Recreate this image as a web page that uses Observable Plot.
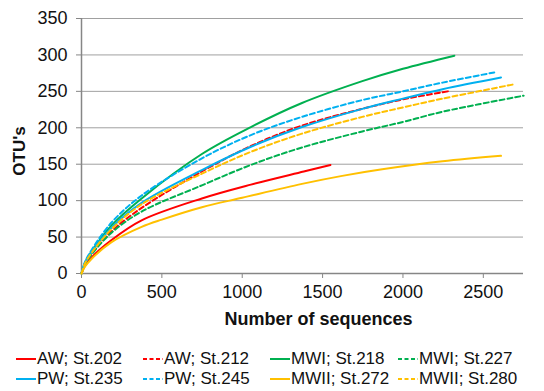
<!DOCTYPE html>
<html>
<head>
<meta charset="utf-8">
<script src="https://cdn.jsdelivr.net/npm/d3@7"></script>
<script src="https://cdn.jsdelivr.net/npm/@observablehq/plot@0.6"></script>
<style>
  body { margin: 0; background: #fff; font-family: "Liberation Sans", Arial, sans-serif; }
  #legend { display: grid; grid-template-columns: 127px 127px 128px 130px; margin-left: 16px; padding-top: 9px; }
  .item { display: flex; align-items: center; height: 20px; font-size: 17px; color: #111; white-space: nowrap; }
  .item svg { margin-right: 1px; }
</style>
</head>
<body>
<div id="chart"></div>
<div id="legend"></div>
<script>
// Series names, colours and dash style
const seriesNames = ["AW; St.202", "AW; St.212", "MWI; St.218", "MWI; St.227", "PW; St.235", "PW; St.245", "MWII; St.272", "MWII; St.280"];
const seriesColors = ["#ff0000", "#ff0000", "#00b050", "#00b050", "#00b0f0", "#00b0f0", "#ffc000", "#ffc000"];
const seriesDashed = [false, true, false, true, false, true, false, true];

// Rarefaction curves: number of sequences (x) and OTU's (y)
const x202 = [0, 20, 62, 187, 374, 749, 1054, 1383, 1549];
const y202 = [0, 10, 22, 46, 73, 103, 122, 140, 149];
const x212 = [0, 20, 62, 187, 374, 749, 1054, 1372, 1747, 2000, 2280];
const y212 = [0, 13, 27, 58, 90, 140, 175, 203, 226, 239, 250];
const x218 = [0, 20, 62, 187, 374, 749, 1054, 1372, 1747, 2000, 2320];
const y218 = [0, 14, 30, 66, 103, 164, 201, 234, 264, 281, 299];
const x227 = [0, 20, 62, 187, 374, 749, 1054, 1372, 1747, 2000, 2246, 2751];
const y227 = [0, 12, 26, 56, 85, 121, 149, 173, 195, 208, 222, 244];
const x235 = [0, 20, 62, 187, 374, 749, 1054, 1372, 1747, 2000, 2246, 2610];
const y235 = [0, 14, 29, 63, 97, 142, 174, 201, 226, 240, 253, 269];
const x245 = [0, 20, 62, 187, 374, 749, 1054, 1372, 1747, 2000, 2246, 2568];
const y245 = [0, 15, 32, 70, 107, 158, 190, 215, 238, 250, 262, 276];
const x272 = [0, 20, 62, 187, 374, 500, 749, 1000, 1372, 1622, 1871, 2246, 2610];
const y272 = [0, 9, 20, 43, 64, 74, 91, 104, 123, 134, 143, 154, 161.5];
const x280 = [0, 20, 62, 187, 374, 749, 1054, 1372, 1747, 2000, 2246, 2699];
const y280 = [0, 13, 28, 61, 95, 137, 167, 192, 215, 228, 240, 260];

// Axis ticks
const xTicks = [0, 500, 1000, 1500, 2000, 2500];
const yTicks = [0, 50, 100, 150, 200, 250, 300, 350];

const xs = [x202, x212, x218, x227, x235, x245, x272, x280];
const ys = [y202, y212, y218, y227, y235, y245, y272, y280];

const lineMarks = seriesNames.map((name, i) => {
  const data = xs[i].map((x, j) => ({x, y: ys[i][j]}));
  return Plot.line(data, {
    x: "x", y: "y", stroke: seriesColors[i], strokeWidth: 2,
    strokeDasharray: seriesDashed[i] ? "5,3" : null,
    curve: "catmull-rom"
  });
});

const axisColor = "#868686";
const fmt = d3.format("d");
const chart = Plot.plot({
  width: 544,
  height: 340,
  marginLeft: 81,
  marginRight: 21,
  marginTop: 18,
  marginBottom: 67,
  style: {fontFamily: "'Liberation Sans', Arial, sans-serif", fontSize: "18px", color: "#111", background: "#fff"},
  x: {domain: [0, 2750]},
  y: {domain: [0, 350]},
  marks: [
    Plot.gridY(yTicks, {stroke: "#a0a0a0", strokeOpacity: 1, strokeWidth: 1}),
    Plot.axisX(xTicks, {tickSize: 5, tickPadding: 7, stroke: axisColor, fill: "#111", label: null, fontSize: 18, tickFormat: fmt}),
    Plot.axisY(yTicks, {tickSize: 5, tickPadding: 9, stroke: axisColor, fill: "#111", label: null, fontSize: 18, tickFormat: fmt}),
    Plot.ruleY([0], {stroke: axisColor, strokeWidth: 1.5}),
    Plot.ruleX([0], {stroke: axisColor, strokeWidth: 1.5}),
    ...lineMarks,
    Plot.text(["Number of sequences"], {frameAnchor: "bottom", dx: 16, dy: 46, fontWeight: "bold", fontSize: 18, fill: "#111", textAnchor: "middle", lineAnchor: "middle"}),
    Plot.text(["OTU's"], {frameAnchor: "left", dx: -62, dy: 5, rotate: -90, fontWeight: "bold", fontSize: 17, fill: "#111", textAnchor: "middle", lineAnchor: "middle"})
  ]
});
document.getElementById("chart").appendChild(chart);

// Legend below the chart
const legend = document.getElementById("legend");
seriesNames.forEach((name, i) => {
  const item = document.createElement("div");
  item.className = "item";
  const dash = seriesDashed[i] ? ' stroke-dasharray="4,2.5"' : "";
  item.innerHTML = `<svg width="20" height="6"><line x1="0" x2="20" y1="3" y2="3" stroke="${seriesColors[i]}" stroke-width="2"${dash}/></svg><span>${name}</span>`;
  legend.appendChild(item);
});
</script>
</body>
</html>
